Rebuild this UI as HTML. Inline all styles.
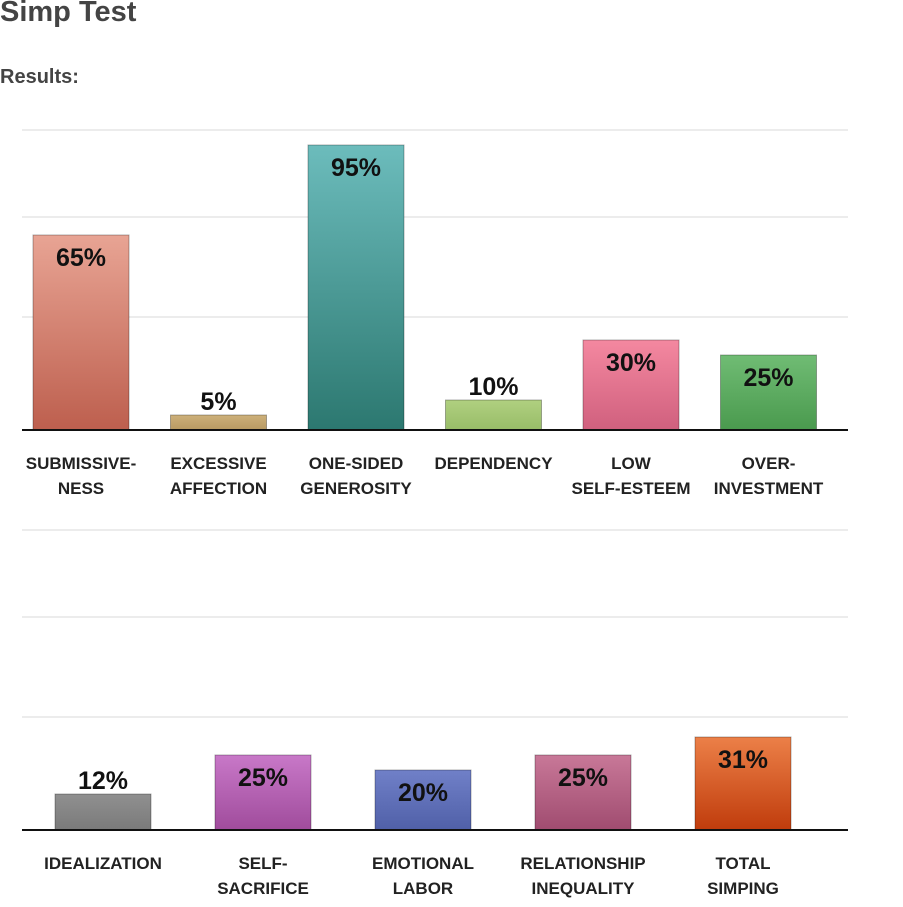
<!DOCTYPE html>
<html><head><meta charset="utf-8"><style>
body{margin:0;width:903px;height:907px;background:#fff;font-family:"Liberation Sans",sans-serif;overflow:hidden;position:relative}
h1{position:absolute;left:0;top:-4px;margin:0;font-size:29px;font-weight:bold;color:#444}
h2{position:absolute;left:0;top:66px;margin:0;font-size:20px;font-weight:bold;color:#444}
svg{position:absolute;left:0;top:0}
</style></head><body>
<h1>Simp Test</h1>
<h2>Results:</h2>
<svg id="c" width="903" height="907">
<defs id="d"></defs>
</svg>
<script>
const cats1=[["SUBMISSIVE-","NESS"],["EXCESSIVE","AFFECTION"],["ONE-SIDED","GENEROSITY"],["DEPENDENCY"],["LOW","SELF-ESTEEM"],["OVER-","INVESTMENT"]];
const vals1=[65,5,95,10,30,25];
const cats2=[["IDEALIZATION"],["SELF-","SACRIFICE"],["EMOTIONAL","LABOR"],["RELATIONSHIP","INEQUALITY"],["TOTAL","SIMPING"]];
const vals2=[12,25,20,25,31];
const cols1=[["#e8a494","#bd5f4e"],["#cdb07a","#b89a62"],["#6cbcbc","#2c7870"],["#b0d080","#98bc68"],["#f488a0","#d0607e"],["#70bc74","#4a9a4e"]];
const cols2=[["#909090","#7a7a7a"],["#c878c8","#a04c9c"],["#7080c8","#5060a8"],["#c87898","#a04c70"],["#ec8048","#c03c0c"]];
const svg=document.getElementById('c'),defs=document.getElementById('d'),NS="http://www.w3.org/2000/svg";
function el(t,a,p){const e=document.createElementNS(NS,t);for(const k in a)e.setAttribute(k,a[k]);(p||svg).appendChild(e);return e;}
let gid=0;
function chart(cats,vals,cols,base,x0,step,grids,prefix){
  const y=v=>base-v*3;
  grids.forEach(g=>{const l=el('line',{x1:22,x2:848,y1:g,y2:g,stroke:'#d8d8d8','stroke-width':1});
    });
  vals.forEach((v,i)=>{
    const cx=x0+i*step,id='g'+(gid++);
    const lg=el('linearGradient',{id:id,x1:0,y1:0,x2:0,y2:1},defs);
    el('stop',{offset:'0','stop-color':cols[i][0]},lg);el('stop',{offset:'1','stop-color':cols[i][1]},lg);
    const r=el('rect',{x:cx-48,y:y(v),width:96,height:v*3,fill:'url(#'+id+')',stroke:'rgba(0,0,0,0.3)','stroke-width':1});
    
    const inside=v*3>45;
    const t=el('text',{x:cx,y:inside?y(v)+31:y(v)-5,'text-anchor':'middle','font-size':25,'font-weight':'bold',fill:'#111'});
    t.textContent=v+'%';
    cats[i].forEach((s,j)=>{const c=el('text',{x:cx,y:base+39+j*25,'text-anchor':'middle','font-size':17,'font-weight':'bold',fill:'#222'});
      c.textContent=s;});
  });
  const b=el('line',{x1:22,x2:848,y1:base,y2:base,stroke:'#111','stroke-width':2});
  
}
chart(cats1,vals1,cols1,430,81,137.5,[130,217,317],'chart1');
chart(cats2,vals2,cols2,830,103,160,[530,617,717],'chart2');
</script>
</body></html>
